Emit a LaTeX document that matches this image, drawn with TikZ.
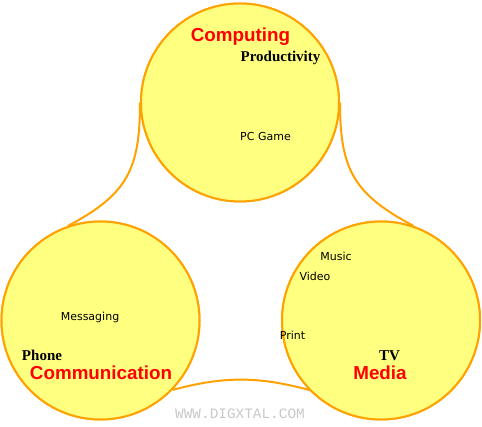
\documentclass[tikz,border=0pt]{standalone}
\usepackage{fontspec}
\setmainfont{Liberation Serif}
\newfontfamily\labsans{DejaVu Sans}
\newfontfamily\headsans{Liberation Sans}
\newfontfamily\wmfont{Liberation Mono}
\definecolor{fillyel}{HTML}{FFFF80}
\definecolor{edgeor}{HTML}{FFA200}
\definecolor{headred}{HTML}{FF0000}
\definecolor{wmgray}{HTML}{C8C8C8}
\tikzset{
  bubble/.style={circle, draw=edgeor, fill=fillyel, line width=2pt, minimum size=198pt, inner sep=0pt},
  link/.style={draw=edgeor, line width=2pt},
  head/.style={anchor=base, text=headred, font=\headsans\bfseries\fontsize{18.8}{20}\selectfont, inner sep=0pt},
  sub/.style={anchor=base, font=\bfseries\fontsize{15}{16}\selectfont, inner sep=0pt},
  item/.style={anchor=base, font=\labsans\fontsize{11}{12}\selectfont, inner sep=0pt},
  wmark/.style={anchor=base, text=wmgray, font=\wmfont\fontsize{14.4}{15}\selectfont, inner sep=0pt}
}
\begin{document}
\begin{tikzpicture}[x=1pt,y=1pt]
\useasboundingbox (0,0) rectangle (482,427);
% circles placed first so that connectors can be drawn between them
\node[bubble] (top) at (240,324.5) {};
\node[bubble] (bl) at (100.5,106.5) {};
\node[bubble] (br) at (381,106.5) {};
% connectors
\path[link] (top.west) to[out=-90, in=28, looseness=1.2] (bl.109);
\path[link] (top.east) to[out=-90, in=152, looseness=1.2] (br.71);
\path[link] (bl.-44) to[out=15, in=165] (br.-136);
% circles again, over the connector ends
\node[bubble] at (top.center) {};
\node[bubble] at (bl.center) {};
\node[bubble] at (br.center) {};
% labels
\node[head] (computing) at (240.5,385.5) {Computing};
\node[sub] (productivity) at (280.5,365) {Productivity};
\node[item] (pcgame) at (265.5,286) {PC Game};
\node[item] (messaging) at (90,106.5) {Messaging};
\node[sub] (phone) at (42,66) {Phone};
\node[head] (communication) at (101,47) {Communication};
\node[item] (music) at (336,166) {Music};
\node[item] (video) at (315,146) {Video};
\node[item] (print) at (292.5,87) {Print};
\node[sub] (tv) at (389.5,66.3) {TV};
\node[head] (media) at (380,47) {Media};
\node[wmark] (wm) at (240,8) {WWW.DIGXTAL.COM};
\end{tikzpicture}
\end{document}
